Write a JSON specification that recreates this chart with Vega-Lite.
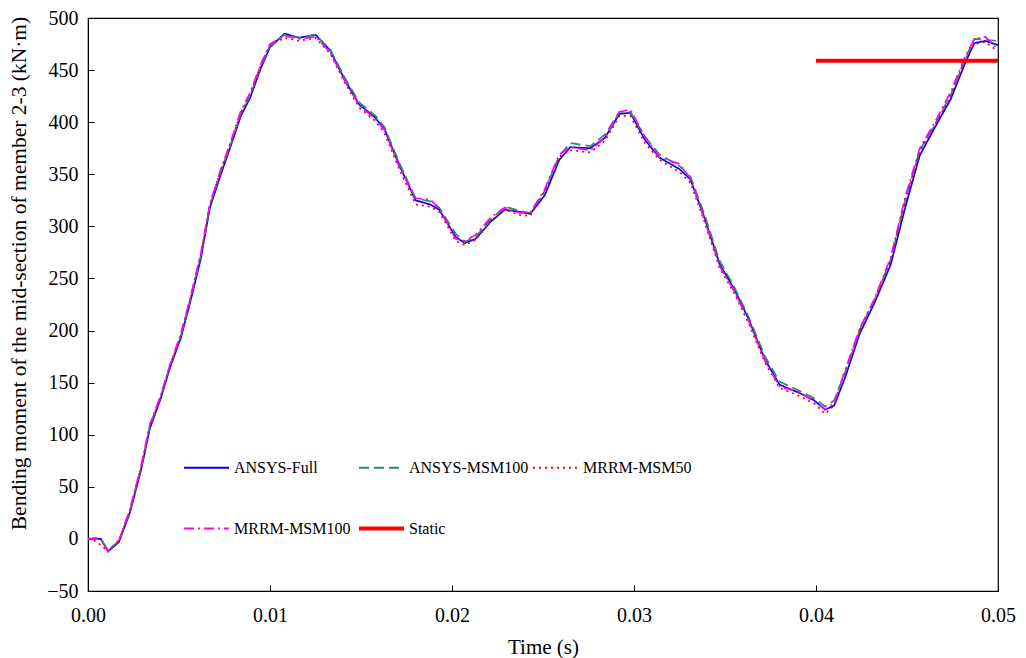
{
  "$schema": "https://vega.github.io/schema/vega-lite/v6.json",
  "autosize": {"type": "none"},
  "padding": {"left": 88, "top": 18, "right": 28, "bottom": 67},
  "width": 910,
  "height": 573,
  "background": "white",
  "config": {
    "view": {"stroke": "black", "strokeWidth": 1.2},
    "font": "Liberation Serif",
    "axis": {"labelFont": "Liberation Serif", "titleFont": "Liberation Serif", "labelFontSize": 20, "titleFontSize": 20, "titleFontWeight": "normal", "labelColor": "black", "titleColor": "black", "domainColor": "black", "tickColor": "black", "grid": false},
    "legend": {"labelFont": "Liberation Serif", "labelFontSize": 16, "labelColor": "black"}
  },
  "layer": [
    {
      "data": {"values": [
        {"t":0,"ANSYS-Full":0,"ANSYS-MSM100":0,"MRRM-MSM50":0,"MRRM-MSM100":0},
        {"t":0.0004,"ANSYS-Full":0,"ANSYS-MSM100":0,"MRRM-MSM50":-2,"MRRM-MSM100":1},
        {"t":0.0007,"ANSYS-Full":0,"ANSYS-MSM100":0,"MRRM-MSM50":-6,"MRRM-MSM100":0},
        {"t":0.0011,"ANSYS-Full":-12,"ANSYS-MSM100":-11,"MRRM-MSM50":-12,"MRRM-MSM100":-12},
        {"t":0.0017,"ANSYS-Full":-3,"ANSYS-MSM100":-2,"MRRM-MSM50":-2,"MRRM-MSM100":-1},
        {"t":0.0023,"ANSYS-Full":25,"ANSYS-MSM100":27,"MRRM-MSM50":27,"MRRM-MSM100":28},
        {"t":0.0029,"ANSYS-Full":65,"ANSYS-MSM100":67,"MRRM-MSM50":67,"MRRM-MSM100":69},
        {"t":0.0034,"ANSYS-Full":106,"ANSYS-MSM100":108,"MRRM-MSM50":108,"MRRM-MSM100":110},
        {"t":0.004,"ANSYS-Full":135,"ANSYS-MSM100":137,"MRRM-MSM50":137,"MRRM-MSM100":138},
        {"t":0.0045,"ANSYS-Full":164,"ANSYS-MSM100":166,"MRRM-MSM50":166,"MRRM-MSM100":167},
        {"t":0.0051,"ANSYS-Full":193,"ANSYS-MSM100":195,"MRRM-MSM50":195,"MRRM-MSM100":197},
        {"t":0.0056,"ANSYS-Full":226,"ANSYS-MSM100":228,"MRRM-MSM50":229,"MRRM-MSM100":230},
        {"t":0.0062,"ANSYS-Full":269,"ANSYS-MSM100":272,"MRRM-MSM50":273,"MRRM-MSM100":274},
        {"t":0.0067,"ANSYS-Full":318,"ANSYS-MSM100":320,"MRRM-MSM50":321,"MRRM-MSM100":322},
        {"t":0.0073,"ANSYS-Full":350,"ANSYS-MSM100":353,"MRRM-MSM50":354,"MRRM-MSM100":355},
        {"t":0.0078,"ANSYS-Full":375,"ANSYS-MSM100":377,"MRRM-MSM50":378,"MRRM-MSM100":379},
        {"t":0.0084,"ANSYS-Full":406,"ANSYS-MSM100":408,"MRRM-MSM50":409,"MRRM-MSM100":411},
        {"t":0.0089,"ANSYS-Full":423,"ANSYS-MSM100":425,"MRRM-MSM50":426,"MRRM-MSM100":428},
        {"t":0.0095,"ANSYS-Full":452,"ANSYS-MSM100":454,"MRRM-MSM50":455,"MRRM-MSM100":456},
        {"t":0.01,"ANSYS-Full":472,"ANSYS-MSM100":473,"MRRM-MSM50":474,"MRRM-MSM100":475},
        {"t":0.0108,"ANSYS-Full":485,"ANSYS-MSM100":484,"MRRM-MSM50":481,"MRRM-MSM100":483},
        {"t":0.0116,"ANSYS-Full":481,"ANSYS-MSM100":481,"MRRM-MSM50":478,"MRRM-MSM100":480},
        {"t":0.0125,"ANSYS-Full":484,"ANSYS-MSM100":484,"MRRM-MSM50":481,"MRRM-MSM100":482},
        {"t":0.0133,"ANSYS-Full":469,"ANSYS-MSM100":470,"MRRM-MSM50":466,"MRRM-MSM100":467},
        {"t":0.0141,"ANSYS-Full":441,"ANSYS-MSM100":443,"MRRM-MSM50":438,"MRRM-MSM100":440},
        {"t":0.0149,"ANSYS-Full":417,"ANSYS-MSM100":419,"MRRM-MSM50":414,"MRRM-MSM100":416},
        {"t":0.0158,"ANSYS-Full":404,"ANSYS-MSM100":406,"MRRM-MSM50":401,"MRRM-MSM100":403},
        {"t":0.0163,"ANSYS-Full":393,"ANSYS-MSM100":395,"MRRM-MSM50":389,"MRRM-MSM100":392},
        {"t":0.0171,"ANSYS-Full":359,"ANSYS-MSM100":361,"MRRM-MSM50":355,"MRRM-MSM100":357},
        {"t":0.018,"ANSYS-Full":325,"ANSYS-MSM100":327,"MRRM-MSM50":321,"MRRM-MSM100":327},
        {"t":0.0188,"ANSYS-Full":321,"ANSYS-MSM100":324,"MRRM-MSM50":319,"MRRM-MSM100":326},
        {"t":0.0193,"ANSYS-Full":316,"ANSYS-MSM100":318,"MRRM-MSM50":314,"MRRM-MSM100":317},
        {"t":0.0202,"ANSYS-Full":290,"ANSYS-MSM100":293,"MRRM-MSM50":286,"MRRM-MSM100":288},
        {"t":0.0207,"ANSYS-Full":284,"ANSYS-MSM100":285,"MRRM-MSM50":282,"MRRM-MSM100":286},
        {"t":0.0213,"ANSYS-Full":288,"ANSYS-MSM100":290,"MRRM-MSM50":287,"MRRM-MSM100":292},
        {"t":0.0221,"ANSYS-Full":304,"ANSYS-MSM100":306,"MRRM-MSM50":305,"MRRM-MSM100":308},
        {"t":0.0229,"ANSYS-Full":316,"ANSYS-MSM100":319,"MRRM-MSM50":316,"MRRM-MSM100":318},
        {"t":0.0237,"ANSYS-Full":314,"ANSYS-MSM100":315,"MRRM-MSM50":311,"MRRM-MSM100":313},
        {"t":0.0243,"ANSYS-Full":312,"ANSYS-MSM100":313,"MRRM-MSM50":310,"MRRM-MSM100":313},
        {"t":0.0251,"ANSYS-Full":330,"ANSYS-MSM100":334,"MRRM-MSM50":334,"MRRM-MSM100":336},
        {"t":0.0259,"ANSYS-Full":364,"ANSYS-MSM100":368,"MRRM-MSM50":367,"MRRM-MSM100":369},
        {"t":0.0265,"ANSYS-Full":376,"ANSYS-MSM100":380,"MRRM-MSM50":373,"MRRM-MSM100":376},
        {"t":0.0276,"ANSYS-Full":375,"ANSYS-MSM100":377,"MRRM-MSM50":371,"MRRM-MSM100":373},
        {"t":0.0284,"ANSYS-Full":385,"ANSYS-MSM100":388,"MRRM-MSM50":382,"MRRM-MSM100":385},
        {"t":0.0292,"ANSYS-Full":408,"ANSYS-MSM100":410,"MRRM-MSM50":406,"MRRM-MSM100":410},
        {"t":0.0298,"ANSYS-Full":409,"ANSYS-MSM100":410,"MRRM-MSM50":406,"MRRM-MSM100":412},
        {"t":0.0306,"ANSYS-Full":383,"ANSYS-MSM100":386,"MRRM-MSM50":380,"MRRM-MSM100":386},
        {"t":0.0314,"ANSYS-Full":366,"ANSYS-MSM100":369,"MRRM-MSM50":364,"MRRM-MSM100":366},
        {"t":0.0325,"ANSYS-Full":355,"ANSYS-MSM100":358,"MRRM-MSM50":352,"MRRM-MSM100":360},
        {"t":0.0331,"ANSYS-Full":345,"ANSYS-MSM100":348,"MRRM-MSM50":342,"MRRM-MSM100":346},
        {"t":0.0339,"ANSYS-Full":307,"ANSYS-MSM100":310,"MRRM-MSM50":303,"MRRM-MSM100":305},
        {"t":0.0347,"ANSYS-Full":264,"ANSYS-MSM100":267,"MRRM-MSM50":260,"MRRM-MSM100":262},
        {"t":0.0355,"ANSYS-Full":240,"ANSYS-MSM100":242,"MRRM-MSM50":236,"MRRM-MSM100":238},
        {"t":0.0363,"ANSYS-Full":211,"ANSYS-MSM100":213,"MRRM-MSM50":207,"MRRM-MSM100":209},
        {"t":0.0372,"ANSYS-Full":172,"ANSYS-MSM100":175,"MRRM-MSM50":169,"MRRM-MSM100":171},
        {"t":0.038,"ANSYS-Full":148,"ANSYS-MSM100":151,"MRRM-MSM50":145,"MRRM-MSM100":146},
        {"t":0.0391,"ANSYS-Full":140,"ANSYS-MSM100":142,"MRRM-MSM50":137,"MRRM-MSM100":141},
        {"t":0.0399,"ANSYS-Full":133,"ANSYS-MSM100":135,"MRRM-MSM50":130,"MRRM-MSM100":132},
        {"t":0.0405,"ANSYS-Full":124,"ANSYS-MSM100":127,"MRRM-MSM50":120,"MRRM-MSM100":124},
        {"t":0.041,"ANSYS-Full":128,"ANSYS-MSM100":133,"MRRM-MSM50":128,"MRRM-MSM100":131},
        {"t":0.0416,"ANSYS-Full":155,"ANSYS-MSM100":160,"MRRM-MSM50":157,"MRRM-MSM100":162},
        {"t":0.0424,"ANSYS-Full":197,"ANSYS-MSM100":201,"MRRM-MSM50":200,"MRRM-MSM100":202},
        {"t":0.0432,"ANSYS-Full":226,"ANSYS-MSM100":229,"MRRM-MSM50":228,"MRRM-MSM100":230},
        {"t":0.0441,"ANSYS-Full":263,"ANSYS-MSM100":268,"MRRM-MSM50":267,"MRRM-MSM100":270},
        {"t":0.0449,"ANSYS-Full":318,"ANSYS-MSM100":325,"MRRM-MSM50":324,"MRRM-MSM100":328},
        {"t":0.0457,"ANSYS-Full":368,"ANSYS-MSM100":373,"MRRM-MSM50":372,"MRRM-MSM100":375},
        {"t":0.0465,"ANSYS-Full":394,"ANSYS-MSM100":397,"MRRM-MSM50":396,"MRRM-MSM100":399},
        {"t":0.0474,"ANSYS-Full":422,"ANSYS-MSM100":426,"MRRM-MSM50":425,"MRRM-MSM100":429},
        {"t":0.0482,"ANSYS-Full":457,"ANSYS-MSM100":461,"MRRM-MSM50":460,"MRRM-MSM100":463},
        {"t":0.0487,"ANSYS-Full":476,"ANSYS-MSM100":480,"MRRM-MSM50":475,"MRRM-MSM100":480},
        {"t":0.0493,"ANSYS-Full":478,"ANSYS-MSM100":479,"MRRM-MSM50":477,"MRRM-MSM100":482},
        {"t":0.05,"ANSYS-Full":474,"ANSYS-MSM100":478,"MRRM-MSM50":468,"MRRM-MSM100":470}
      ]},
      "transform": [{"fold": ["ANSYS-Full", "ANSYS-MSM100", "MRRM-MSM50", "MRRM-MSM100"], "as": ["series", "v"]}],
      "mark": {"type": "line", "clip": true, "strokeWidth": 1.7},
      "encoding": {
        "x": {"field": "t", "type": "quantitative", "scale": {"domain": [0, 0.05], "nice": false},
          "axis": {"values": [0, 0.01, 0.02, 0.03, 0.04, 0.05], "format": ".2f", "title": "Time (s)", "tickSize": -6, "labelPadding": 20, "labelFlush": false, "titleY": 56, "titleBaseline": "middle", "labelFont": "Liberation Serif", "titleFont": "Liberation Serif", "labelFontSize": 20, "titleFontSize": 21}},
        "y": {"field": "v", "type": "quantitative", "scale": {"domain": [-50, 500], "nice": false},
          "axis": {"values": [-50, 0, 50, 100, 150, 200, 250, 300, 350, 400, 450, 500], "title": "Bending moment of the mid-section of member 2-3 (kN·m)", "tickSize": -6, "labelPadding": 16, "labelFlush": false, "titleX": -69, "titleY": 255, "titleBaseline": "middle", "labelFont": "Liberation Serif", "titleFont": "Liberation Serif", "labelFontSize": 20, "titleFontSize": 21.5}},
        "color": {"field": "series", "type": "nominal",
          "scale": {"domain": ["ANSYS-Full", "ANSYS-MSM100", "MRRM-MSM50", "MRRM-MSM100", "Static"], "range": ["#0000FF", "#2E8B57", "#FF0000", "#FF00FF", "#FF0000"]},
          "legend": {"title": null, "orient": "none", "legendX": 95, "legendY": 426, "columns": 3, "direction": "horizontal", "symbolType": "stroke", "symbolSize": 2025, "symbolStrokeWidth": 1.8, "columnPadding": 0, "rowPadding": 29, "labelOffset": 4, "labelFont": "Liberation Serif", "labelFontSize": 16,
            "encode": {"symbols": {"update": {"strokeWidth": {"signal": "(datum.label === 'Static' ? 4 : 1.8)"}}}}}},
        "strokeDash": {"field": "series", "type": "nominal",
          "scale": {"domain": ["ANSYS-Full", "ANSYS-MSM100", "MRRM-MSM50", "MRRM-MSM100", "Static"], "range": [[1, 0], [10, 5], [2, 4], [10, 4, 2, 4], [1, 0]]},
          "legend": {"title": null}}
      }
    },
    {
      "data": {"values": [
        {"t": 0.04, "v": 459, "series": "Static"},
        {"t": 0.05, "v": 459, "series": "Static"}
      ]},
      "mark": {"type": "line", "clip": true, "strokeWidth": 4},
      "encoding": {
        "x": {"field": "t", "type": "quantitative"},
        "y": {"field": "v", "type": "quantitative"},
        "color": {"field": "series", "type": "nominal"},
        "strokeDash": {"field": "series", "type": "nominal"}
      }
    }
  ]
}
